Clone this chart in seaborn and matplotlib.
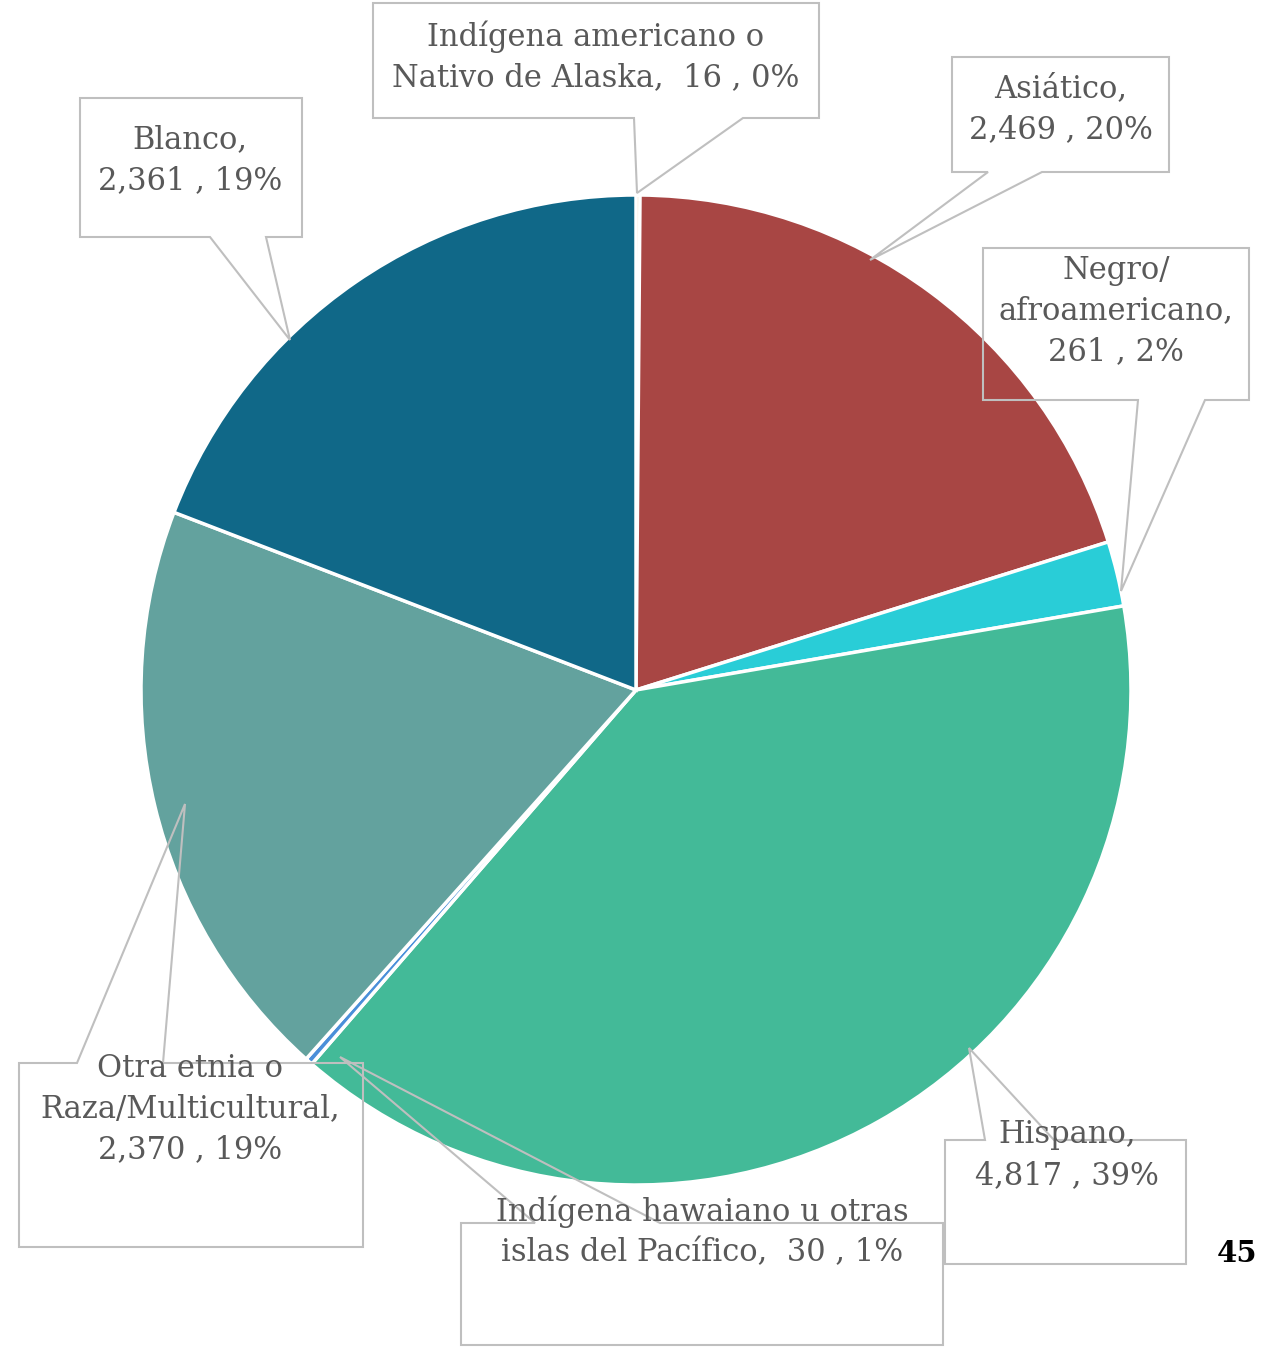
import matplotlib
matplotlib.use("Agg")
import matplotlib.pyplot as plt
import seaborn as sns
from matplotlib.patches import Polygon

# ---- data ----
categories = [
    "Indígena americano o\nNativo de Alaska,",
    "Asiático,\n",
    "Negro/\nafroamericano,\n",
    "Hispano,\n",
    "Indígena hawaiano u otras\nislas del Pacífico,",
    "Otra etnia o\nRaza/Multicultural,\n",
    "Blanco,\n",
]
values = [16, 2469, 261, 4817, 30, 2370, 2361]
pct_labels = ["0%", "20%", "2%", "39%", "1%", "19%", "19%"]
colors = ["#E39B3A", "#A84644", "#29CDD7", "#43BA98", "#4A8FD9", "#63A29E", "#106888"]

W, H = 1262, 1357
sns.set_theme(style="white")
plt.rcParams["font.family"] = ["DejaVu Serif"]

fig = plt.figure(figsize=(W / 100, H / 100), dpi=100)
ax = fig.add_axes([0, 0, 1, 1])

def Y(py):
    return H - py

cx, cy, R = 636, 690, 495
ax.pie(values, colors=sns.color_palette(colors), startangle=90, counterclock=False,
       center=(cx, Y(cy)), radius=R,
       wedgeprops=dict(edgecolor="white", linewidth=2.5))
ax.set_xlim(0, W)
ax.set_ylim(0, H)
ax.set_aspect("equal")
ax.axis("off")

# ---- callout boxes (layout) ----
# (x0, y0, x1, y1, side, base1, base2, tip, text_x, text_y)
callouts = [
    (373, 3, 819, 118, "bottom", 634, 743, (637, 193), 596, 57),
    (952, 57, 1169, 172, "bottom", 988, 1042, (870, 260), 1061, 109),
    (983, 248, 1249, 400, "bottom", 1138, 1205, (1121, 591), 1116, 311),
    (945, 1140, 1186, 1264, "top", 985, 1054, (969, 1048), 1067, 1155),
    (461, 1223, 943, 1345, "top", 535, 660, (340, 1057), 702, 1232),
    (19, 1063, 363, 1247, "top", 77, 163, (185, 804), 190, 1109),
    (80, 98, 302, 237, "bottom", 210, 266, (290, 340), 190, 160),
]

edge = "#BFBFBF"
for (x0, y0, x1, y1, side, b1, b2, tip, tx, ty), cat, v, p in zip(
        callouts, categories, values, pct_labels):
    if side == "bottom":
        pts = [(x0, y0), (x1, y0), (x1, y1), (b2, y1), tip, (b1, y1), (x0, y1)]
    else:
        pts = [(x0, y1), (x1, y1), (x1, y0), (b2, y0), tip, (b1, y0), (x0, y0)]
    pts = [(px, Y(py)) for px, py in pts]
    ax.add_patch(Polygon(pts, closed=True, fill=False, edgecolor=edge, linewidth=1.5,
                         joinstyle="miter"))
    label = f"{cat}  {v:,} , {p}" if cat.endswith(",") else f"{cat}{v:,} , {p}"
    ax.text(tx, Y(ty), label, ha="center", va="center", fontsize=22,
            color="#595959", linespacing=1.4)

ax.text(1237, Y(1253), "45", ha="center", va="center", fontsize=21,
        fontweight="bold", color="black")

fig.savefig("out.png", dpi=100)
